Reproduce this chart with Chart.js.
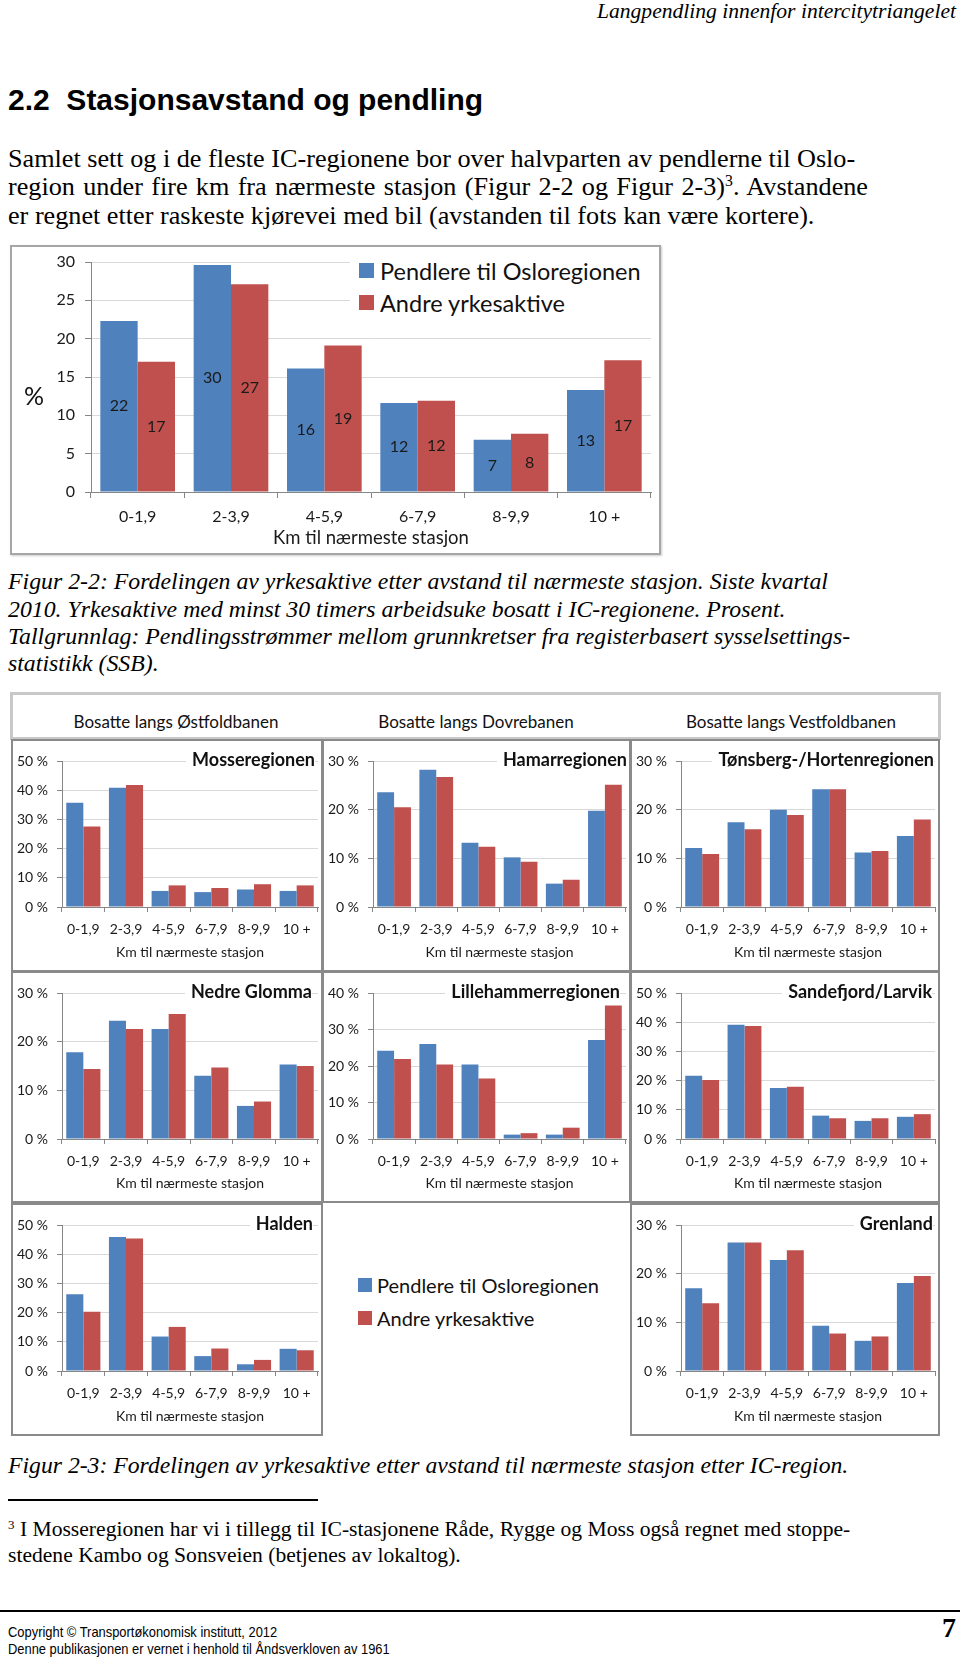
<!DOCTYPE html>
<html><head><meta charset="utf-8">
<script src="https://cdn.jsdelivr.net/npm/chart.js@4.4.1/dist/chart.umd.min.js"></script>
<style>
html,body{margin:0;padding:0;background:#fff}
body{width:960px;height:1659px;position:relative;overflow:hidden;color:#000}
.t{position:absolute;white-space:nowrap;line-height:1.15;transform:translateY(-50%)}
.serif{font-family:'Liberation Serif','Times New Roman',serif}
.sans{font-family:'Liberation Sans',Arial,sans-serif}
.it{font-style:italic}
.box{position:absolute;box-sizing:border-box}
canvas{position:absolute}
.rt{position:absolute;font-family:Lato,sans-serif;font-weight:700;font-size:18px;background:#fff;padding-left:6px;line-height:1.2;transform:translateY(-50%);white-space:nowrap;color:#111}
.lg{position:absolute;font-family:Lato,sans-serif;white-space:nowrap;color:#111;transform:translateY(-50%);line-height:1.2}
.sw{position:absolute}
.hd{position:absolute;font-family:Lato,sans-serif;font-size:17px;white-space:nowrap;transform:translate(-50%,-50%);color:#111}
.cp{position:absolute;white-space:nowrap;line-height:1.15;transform:translateY(-50%) scaleX(0.89);transform-origin:left center;font-size:14.5px;font-family:'Liberation Sans',sans-serif}
.just{text-align:justify;text-align-last:justify;white-space:normal}
sup{font-size:60%;vertical-align:0;position:relative;top:-0.55em}
</style></head><body>

<div class="t serif it" style="right:4px;top:11px;font-size:21.6px">Langpendling innenfor intercitytriangelet</div>
<div class="t sans" style="left:8px;top:100px;font-size:30px;font-weight:700">2.2&nbsp;&nbsp;Stasjonsavstand og pendling</div>
<div class="t serif" style="left:8px;top:159px;font-size:26.2px">Samlet sett og i de fleste IC-regionene bor over halvparten av pendlerne til Oslo-</div>
<div class="t serif just" style="left:8px;top:187px;width:860px;font-size:26.2px">region under fire km fra nærmeste stasjon (Figur 2-2 og Figur 2-3)<sup>3</sup>. Avstandene</div>
<div class="t serif" style="left:8px;top:216px;font-size:26.2px">er regnet etter raskeste kjørevei med bil (avstanden til fots kan være kortere).</div>

<div class="box" style="left:10px;top:245px;width:651px;height:310px;border:2px solid #a6a6a6;box-shadow:1px 1px 2px #ccc"></div>
<canvas id="mainChart" width="648" height="306" style="left:12px;top:247px"></canvas>
<div class="t" style="left:24px;top:395px;font-family:Lato,sans-serif;font-size:25px;color:#111">%</div>
<div class="box" id="mainLegend" style="left:350px;top:250px;width:302px;height:68px;background:#fff"></div>
<div class="sw" style="left:359px;top:263px;width:15px;height:15px;background:#4F81BD"></div>
<div class="lg" style="left:380px;top:271px;font-size:23.5px">Pendlere til Osloregionen</div>
<div class="sw" style="left:359px;top:295px;width:15px;height:15px;background:#C0504D"></div>
<div class="lg" style="left:380px;top:303px;font-size:23.5px">Andre yrkesaktive</div>

<div class="t serif it" style="left:8px;top:582px;font-size:23.8px">Figur 2-2: Fordelingen av yrkesaktive etter avstand til nærmeste stasjon. Siste kvartal</div>
<div class="t serif it" style="left:8px;top:610px;font-size:23.8px">2010. Yrkesaktive med minst 30 timers arbeidsuke bosatt i IC-regionene. Prosent.</div>
<div class="t serif it" style="left:8px;top:637px;font-size:23.8px">Tallgrunnlag: Pendlingsstrømmer mellom grunnkretser fra registerbasert sysselsettings-</div>
<div class="t serif it" style="left:8px;top:664px;font-size:23.8px">statistikk (SSB).</div>

<div class="box" style="left:10px;top:692px;width:931px;height:48px;border:3px solid #c8c8c8"></div>
<div class="hd" style="left:176px;top:721px">Bosatte langs Østfoldbanen</div>
<div class="hd" style="left:476px;top:721px">Bosatte langs Dovrebanen</div>
<div class="hd" style="left:791px;top:721px">Bosatte langs Vestfoldbanen</div>

<div id="panels"></div>

<div class="sw" style="left:358px;top:1278px;width:14px;height:14px;background:#4F81BD"></div>
<div class="lg" style="left:377px;top:1285px;font-size:20px">Pendlere til Osloregionen</div>
<div class="sw" style="left:358px;top:1311px;width:14px;height:14px;background:#C0504D"></div>
<div class="lg" style="left:377px;top:1318px;font-size:20px">Andre yrkesaktive</div>

<div class="t serif it" style="left:8px;top:1466px;font-size:23.7px">Figur 2-3: Fordelingen av yrkesaktive etter avstand til nærmeste stasjon etter IC-region.</div>
<div style="position:absolute;left:8px;top:1499px;width:310px;height:1.5px;background:#000"></div>
<div class="t serif" style="left:8px;top:1529px;font-size:21.6px"><sup>3</sup> I Mosseregionen har vi i tillegg til IC-stasjonene Råde, Rygge og Moss også regnet med stoppe-</div>
<div class="t serif" style="left:8px;top:1555px;font-size:21.6px">stedene Kambo og Sonsveien (betjenes av lokaltog).</div>
<div style="position:absolute;left:0;top:1610px;width:960px;height:2px;background:#000"></div>
<div class="cp" style="left:8px;top:1632px">Copyright © Transportøkonomisk institutt, 2012</div>
<div class="cp" style="left:8px;top:1649px">Denne publikasjonen er vernet i henhold til Åndsverkloven av 1961</div>
<div class="t serif" style="right:4px;top:1628px;font-size:28px;font-weight:700">7</div>

<script>
// ---- data ----
const categories = ['0-1,9', '2-3,9', '4-5,9', '6-7,9', '8-9,9', '10 +'];
const seriesNames = ['Pendlere til Osloregionen', 'Andre yrkesaktive'];
const axisTitle = 'Km til nærmeste stasjon';

const mainPendlere = [22.3, 29.6, 16.1, 11.6, 6.8, 13.3];
const mainAndre    = [17.0, 27.1, 19.1, 11.9, 7.6, 17.2];
const mainYMax = 30, mainYStep = 5;

const mossePendlere    = [35.7, 40.8, 5.5, 5.1, 6.0, 5.5];
const mosseAndre       = [27.6, 41.8, 7.4, 6.5, 7.8, 7.4];
const hamarPendlere    = [23.6, 28.2, 13.2, 10.2, 4.8, 19.8];
const hamarAndre       = [20.5, 26.7, 12.4, 9.3, 5.6, 25.1];
const tonsbergPendlere = [12.1, 17.4, 20.0, 24.2, 11.2, 14.6];
const tonsbergAndre    = [10.9, 16.0, 18.9, 24.2, 11.5, 18.0];
const glommaPendlere   = [17.8, 24.3, 22.6, 13.0, 6.8, 15.3];
const glommaAndre      = [14.4, 22.6, 25.7, 14.7, 7.7, 15.0];
const lillePendlere    = [24.2, 26.0, 20.4, 1.2, 1.2, 27.1];
const lilleAndre       = [21.9, 20.4, 16.6, 1.6, 3.1, 36.6];
const sandePendlere    = [21.7, 39.1, 17.5, 8.0, 6.2, 7.6];
const sandeAndre       = [20.2, 38.7, 17.9, 7.1, 7.1, 8.5];
const haldenPendlere   = [26.3, 45.9, 11.8, 5.1, 2.3, 7.6];
const haldenAndre      = [20.3, 45.4, 15.1, 7.7, 3.8, 7.1];
const grenlandPendlere = [17.0, 26.4, 22.8, 9.3, 6.2, 18.1];
const grenlandAndre    = [13.9, 26.4, 24.8, 7.7, 7.1, 19.5];

const regionNames = ['Mosseregionen', 'Hamarregionen', 'Tønsberg-/Hortenregionen',
  'Nedre Glomma', 'Lillehammerregionen', 'Sandefjord/Larvik', 'Halden', 'Grenland'];
const regionYMax = [50, 30, 30, 30, 40, 50, 50, 30];
const regionYStep = 10;

// ---- styles / layout ----
const BLUE = '#4F81BD', RED = '#C0504D', GRID = '#D9D9D9', AXIS = '#868686', TXT = '#1a1a1a';
const FONT = 'Lato';
Chart.defaults.font.family = FONT;
Chart.defaults.color = TXT;

const colLeft = [11, 322, 630], colW = [312, 309, 310];
const rowTop = [739, 971, 1203], rowH = [233, 232, 233];
// [row, col, titleInset]
const panelPos = [[0,0,8],[0,1,4],[0,2,6],[1,0,11],[1,1,11],[1,2,8],[2,0,10],[2,2,7]];
const panelSeries = [
  [mossePendlere, mosseAndre], [hamarPendlere, hamarAndre], [tonsbergPendlere, tonsbergAndre],
  [glommaPendlere, glommaAndre], [lillePendlere, lilleAndre], [sandePendlere, sandeAndre],
  [haldenPendlere, haldenAndre], [grenlandPendlere, grenlandAndre]];

function datasets(p, a) {
  return [
    {label: seriesNames[0], data: p, backgroundColor: BLUE, borderWidth: 0, categoryPercentage: 0.8, barPercentage: 1.0},
    {label: seriesNames[1], data: a, backgroundColor: RED, borderWidth: 0, categoryPercentage: 0.8, barPercentage: 1.0}
  ];
}

// main chart
const valueLabels = {
  id: 'valueLabels',
  afterDatasetsDraw(chart) {
    const ctx = chart.ctx;
    ctx.save();
    ctx.font = '16px ' + FONT;
    ctx.fillStyle = TXT;
    ctx.textAlign = 'center';
    ctx.textBaseline = 'middle';
    chart.data.datasets.forEach((ds, di) => {
      chart.getDatasetMeta(di).data.forEach((bar, i) => {
        ctx.fillText(String(Math.round(ds.data[i])), bar.x, (bar.y + bar.base) / 2);
      });
    });
    ctx.restore();
  }
};

new Chart(document.getElementById('mainChart'), {
  type: 'bar',
  data: {labels: categories, datasets: datasets(mainPendlere, mainAndre)},
  plugins: [valueLabels],
  options: {
    responsive: false, animation: false, events: [],
    layout: {padding: {left: 0, top: 15, right: 9, bottom: 0}},
    plugins: {legend: {display: false}, tooltip: {enabled: false}},
    scales: {
      x: {
        grid: {display: true, drawOnChartArea: false, offset: true, tickLength: 6, color: AXIS},
        border: {color: AXIS, width: 1},
        ticks: {font: {size: 16}, padding: 9, color: TXT},
        title: {display: true, text: axisTitle, font: {size: 18.5}, color: TXT, padding: {top: 0, bottom: 4}},
        afterFit: s => { s.height = 61; }
      },
      y: {
        min: 0, max: mainYMax,
        ticks: {stepSize: mainYStep, font: {size: 16}, padding: 10, color: TXT},
        grid: {color: GRID, tickColor: AXIS, tickLength: 6},
        border: {color: AXIS, width: 1},
        afterFit: s => { s.width = 79; s.paddingTop = 0; s.paddingBottom = 0; }
      }
    }
  }
});

// small charts
const host = document.getElementById('panels');
panelPos.forEach((pp, k) => {
  const [r, c, inset] = pp;
  const L = colLeft[c], T = rowTop[r], W = colW[c], H = rowH[r];
  const frame = document.createElement('div');
  frame.className = 'box';
  frame.style.cssText = `left:${L}px;top:${T}px;width:${W}px;height:${H}px;border:2px solid #8a8a8a`;
  host.appendChild(frame);
  const cv = document.createElement('canvas');
  cv.width = W; cv.height = H;
  cv.style.left = L + 'px'; cv.style.top = T + 'px';
  host.appendChild(cv);
  const ttl = document.createElement('div');
  ttl.className = 'rt';
  ttl.textContent = regionNames[k];
  ttl.style.right = (960 - (L + W) + inset) + 'px';
  ttl.style.top = (T + 21) + 'px';
  host.appendChild(ttl);
  new Chart(cv, {
    type: 'bar',
    data: {labels: categories, datasets: datasets(panelSeries[k][0], panelSeries[k][1])},
    options: {
      responsive: false, animation: false, events: [],
      layout: {padding: {left: 0, top: 22, right: 5, bottom: 0}},
      plugins: {legend: {display: false}, tooltip: {enabled: false}},
      scales: {
        x: {
          grid: {display: true, drawOnChartArea: false, offset: true, tickLength: 5, color: AXIS},
          border: {color: AXIS, width: 1},
          ticks: {font: {size: 14}, padding: 9, color: TXT, maxRotation: 0, autoSkip: false},
          title: {display: true, text: axisTitle, font: {size: 14}, color: TXT, padding: {top: 0, bottom: 11}},
          afterFit: s => { s.height = H - 168; }
        },
        y: {
          min: 0, max: regionYMax[k],
          ticks: {stepSize: regionYStep, font: {size: 14}, padding: 9, color: TXT, callback: v => v + ' %'},
          grid: {color: GRID, tickColor: AXIS, tickLength: 5},
          border: {color: AXIS, width: 1},
          afterFit: s => { s.width = 51; }
        }
      }
    }
  });
});
</script>
</body></html>
